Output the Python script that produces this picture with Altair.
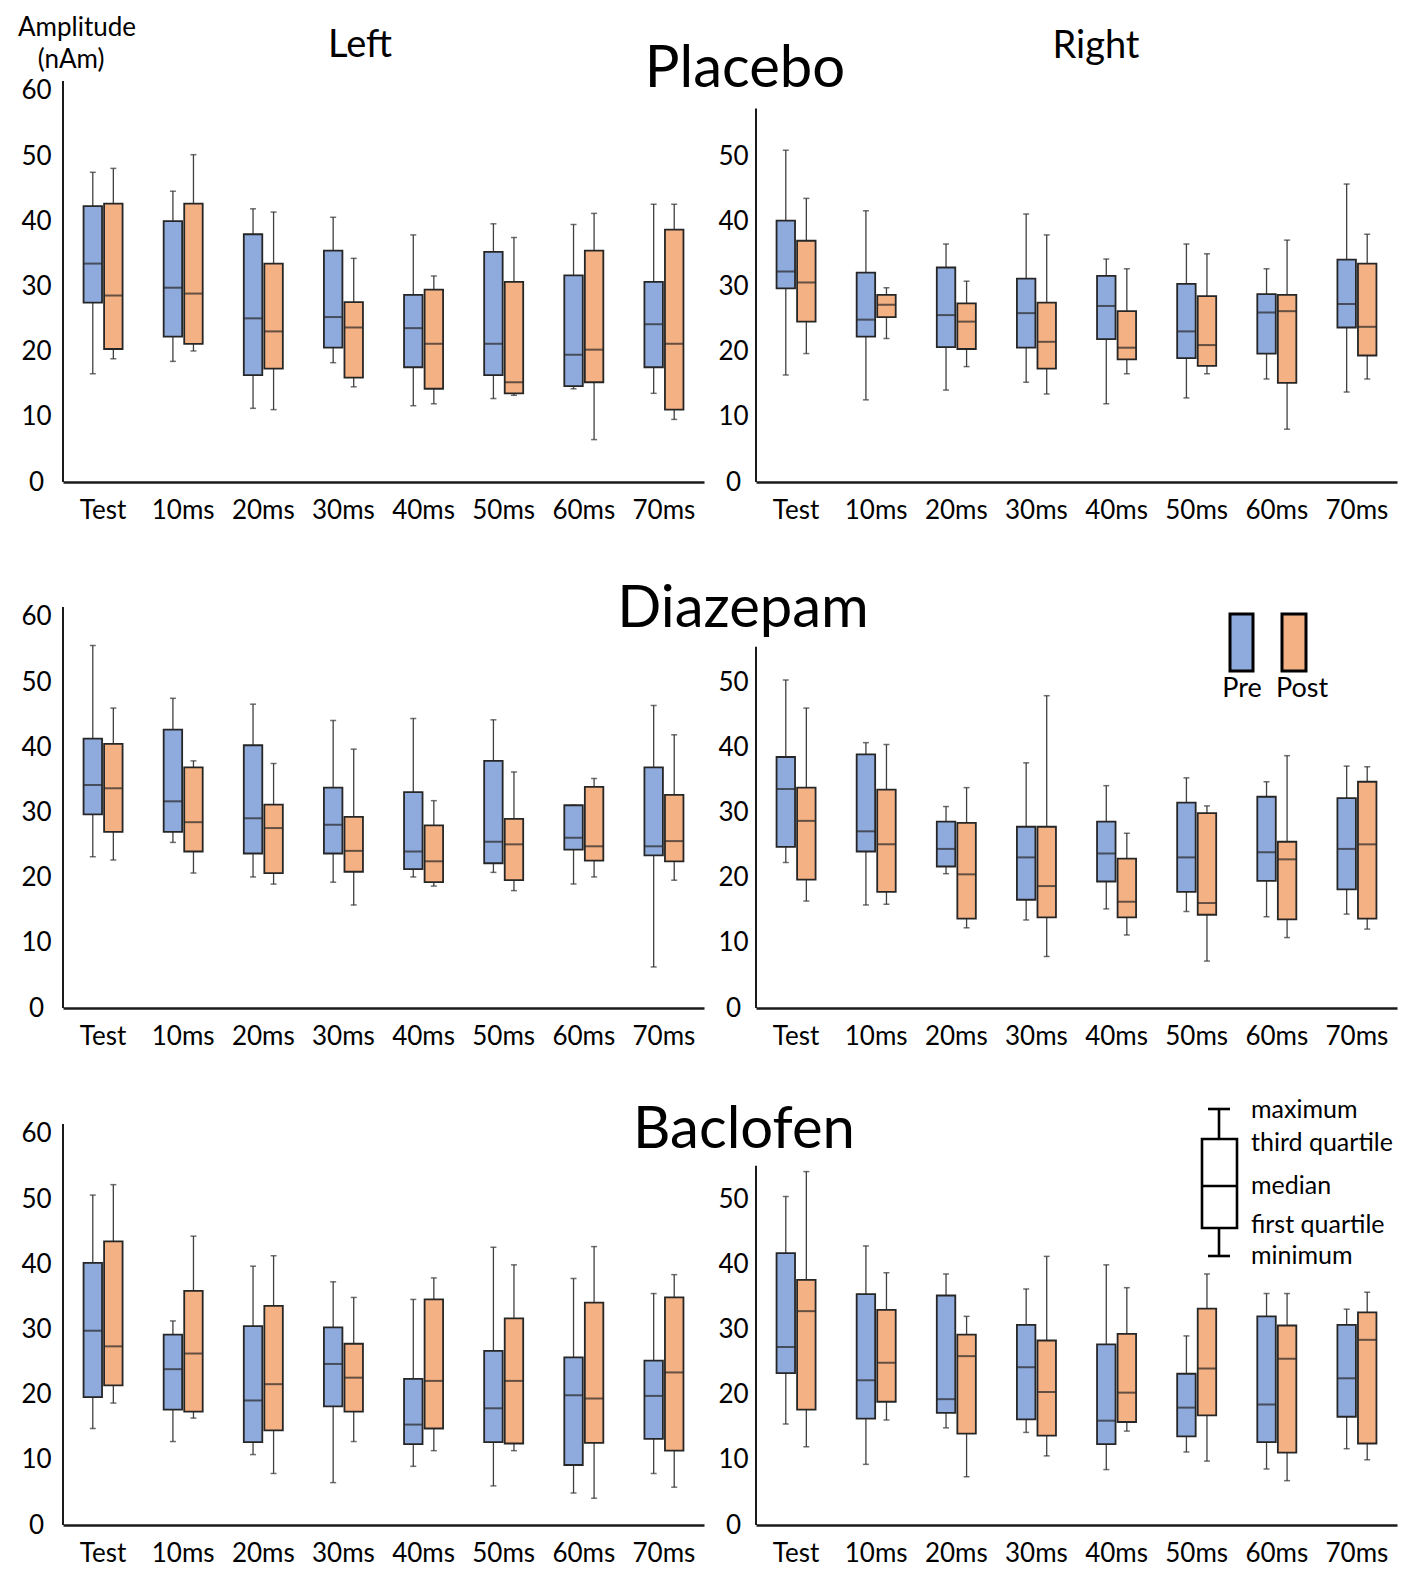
import altair as alt
import pandas as pd

CATS = ["Test", "10ms", "20ms", "30ms", "40ms", "50ms", "60ms", "70ms"]
GROUPS = ["Pre", "Post"]

# (minimum, first quartile, median, third quartile, maximum) per category
placebo_left_pre = [(16.6, 27.5, 33.5, 42.3, 47.5), (18.5, 22.3, 29.8, 40.0, 44.6), (11.3, 16.4, 25.1, 38.0, 41.9), (18.3, 20.6, 25.3, 35.5, 40.6),
                    (11.7, 17.6, 23.6, 28.7, 37.9), (12.8, 16.4, 21.2, 35.3, 39.6), (14.3, 14.7, 19.5, 31.7, 39.5), (13.6, 17.6, 24.2, 30.7, 42.6)]
placebo_left_post = [(18.9, 20.4, 28.6, 42.7, 48.1), (20.1, 21.2, 28.9, 42.7, 50.2), (11.1, 17.4, 23.1, 33.5, 41.4), (14.6, 16.0, 23.7, 27.6, 34.3),
                     (12.0, 14.3, 21.2, 29.5, 31.6), (13.3, 13.6, 15.3, 30.7, 37.5), (6.5, 15.3, 20.3, 35.5, 41.2), (9.6, 11.1, 21.2, 38.7, 42.6)]
placebo_right_pre = [(16.4, 29.7, 32.3, 40.1, 50.9), (12.6, 22.3, 24.9, 32.1, 41.6), (14.1, 20.7, 25.6, 32.9, 36.5), (15.3, 20.6, 25.9, 31.2, 41.1),
                     (12.0, 21.9, 27.0, 31.6, 34.2), (12.9, 19.0, 23.1, 30.4, 36.5), (15.8, 19.7, 26.0, 28.8, 32.7), (13.8, 23.7, 27.3, 34.1, 45.7)]
placebo_right_post = [(19.7, 24.6, 30.6, 37.0, 43.5), (22.0, 25.3, 27.2, 28.7, 29.8), (17.7, 20.4, 24.6, 27.4, 30.8), (13.5, 17.4, 21.5, 27.5, 37.9),
                      (16.6, 18.8, 20.6, 26.2, 32.7), (16.6, 17.8, 21.0, 28.5, 35.0), (8.1, 15.2, 26.2, 28.7, 37.1), (15.8, 19.4, 23.8, 33.5, 38.0)]
diazepam_left_pre = [(23.2, 29.7, 34.2, 41.3, 55.6), (25.4, 27.0, 31.7, 42.7, 47.5), (20.1, 23.7, 29.1, 40.3, 46.6), (19.3, 23.7, 28.1, 33.8, 44.1),
                     (20.1, 21.3, 24.0, 33.1, 44.4), (20.8, 22.2, 25.5, 37.9, 44.2), (19.0, 24.3, 26.1, 31.1, 31.1), (6.3, 23.4, 24.8, 36.9, 46.4)]
diazepam_left_post = [(22.7, 27.0, 33.7, 40.5, 46.0), (20.7, 24.0, 28.5, 36.9, 37.9), (19.0, 20.7, 27.6, 31.2, 37.5), (15.8, 20.9, 24.1, 29.3, 39.7),
                      (18.7, 19.3, 22.5, 28.0, 31.8), (18.0, 19.6, 25.1, 29.0, 36.2), (20.1, 22.6, 24.8, 33.9, 35.2), (19.6, 22.5, 25.6, 32.7, 41.9)]
diazepam_right_pre = [(22.3, 24.7, 33.6, 38.5, 50.3), (15.8, 24.0, 27.1, 38.9, 40.7), (20.6, 21.7, 24.4, 28.6, 30.9), (13.5, 16.6, 23.1, 27.8, 37.6),
                      (15.2, 19.4, 23.7, 28.6, 34.1), (14.8, 17.8, 23.1, 31.5, 35.3), (14.0, 19.5, 23.9, 32.4, 34.7), (14.4, 18.2, 24.4, 32.2, 37.1)]
diazepam_right_post = [(16.4, 19.7, 28.7, 33.8, 46.0), (15.9, 17.8, 25.1, 33.5, 40.4), (12.3, 13.7, 20.5, 28.4, 33.8), (7.9, 13.9, 18.7, 27.8, 47.9),
                       (11.2, 13.9, 16.3, 22.9, 26.8), (7.2, 14.3, 16.1, 29.9, 31.0), (10.8, 13.6, 22.8, 25.5, 38.7), (12.1, 13.7, 25.1, 34.7, 37.0)]
baclofen_left_pre = [(14.8, 19.6, 29.8, 40.2, 50.6), (12.8, 17.7, 23.9, 29.2, 31.3), (10.8, 12.7, 19.1, 30.5, 39.7), (6.5, 18.2, 24.7, 30.3, 37.3),
                     (9.0, 12.4, 15.4, 22.4, 34.6), (6.0, 12.7, 17.9, 26.7, 42.6), (4.9, 9.2, 19.9, 25.7, 37.8), (7.9, 13.2, 19.8, 25.2, 35.5)]
baclofen_left_post = [(18.7, 21.4, 27.4, 43.5, 52.2), (16.4, 17.4, 26.3, 35.9, 44.3), (7.9, 14.5, 21.6, 33.6, 41.3), (12.8, 17.4, 22.6, 27.8, 34.9),
                      (11.4, 14.8, 22.1, 34.6, 37.9), (11.4, 12.5, 22.1, 31.7, 39.9), (4.1, 12.6, 19.4, 34.1, 42.7), (5.8, 11.4, 23.4, 34.9, 38.4)]
baclofen_right_pre = [(15.5, 23.3, 27.3, 41.7, 50.4), (9.3, 16.3, 22.2, 35.4, 42.8), (14.9, 17.2, 19.3, 35.2, 38.5), (14.2, 16.2, 24.2, 30.7, 36.2),
                      (8.5, 12.4, 16.0, 27.7, 39.9), (11.2, 13.6, 18.0, 23.2, 29.0), (8.6, 12.7, 18.5, 32.0, 35.5), (11.7, 16.6, 22.5, 30.7, 33.1)]
baclofen_right_post = [(12.0, 17.7, 32.8, 37.6, 54.2), (16.1, 18.9, 24.9, 33.0, 38.7), (7.4, 14.0, 25.9, 29.2, 32.0), (10.6, 13.7, 20.4, 28.3, 41.2),
                       (14.4, 15.8, 20.3, 29.3, 36.4), (9.8, 16.8, 24.0, 33.2, 38.5), (6.8, 11.1, 25.5, 30.6, 35.5), (10.0, 12.5, 28.4, 32.6, 35.7)]

SERIES = [
    ("Placebo", "Left", "Pre", placebo_left_pre), ("Placebo", "Left", "Post", placebo_left_post),
    ("Placebo", "Right", "Pre", placebo_right_pre), ("Placebo", "Right", "Post", placebo_right_post),
    ("Diazepam", "Left", "Pre", diazepam_left_pre), ("Diazepam", "Left", "Post", diazepam_left_post),
    ("Diazepam", "Right", "Pre", diazepam_right_pre), ("Diazepam", "Right", "Post", diazepam_right_post),
    ("Baclofen", "Left", "Pre", baclofen_left_pre), ("Baclofen", "Left", "Post", baclofen_left_post),
    ("Baclofen", "Right", "Pre", baclofen_right_pre), ("Baclofen", "Right", "Post", baclofen_right_post),
]

rows = []
for drug, side, group, vals in SERIES:
    for cat, (mn, q1, md, q3, mx) in zip(CATS, vals):
        rows.append(dict(drug=drug, side=side, group=group, cat=cat, mn=mn, q1=q1, md=md, q3=q3, mx=mx))
df = pd.DataFrame(rows)
dummy = pd.DataFrame({"a": [0]})

FONT = "Lato"
BLUE = "#8FAADC"
ORANGE = "#F4B183"
INK = "#1a1a1a"
PX = 6.52          # pixels per nAm
W = 641
HEIGHTS = {"Placebo": 402, "Diazepam": 426, "Baclofen": 417}
AXIS_TOP = {("Placebo", "Left"): 61.5, ("Placebo", "Right"): 57.3,
            ("Diazepam", "Left"): 61.5, ("Diazepam", "Right"): 55.4,
            ("Baclofen", "Left"): 61.5, ("Baclofen", "Right"): 55.1}


def text(t, x, y, size, align="center", baseline="alphabetic"):
    return alt.Chart(dummy).mark_text(text=t, font=FONT, fontSize=size, align=align,
                                      baseline=baseline, color="black").encode(
        x=alt.value(x), y=alt.value(y))


def panel(drug, side, extras):
    H = HEIGHTS[drug]
    ymax = H / PX
    sub = df[(df.drug == drug) & (df.side == side)]
    base = alt.Chart(sub)
    x = alt.X("cat:N", sort=CATS,
              scale=alt.Scale(domain=CATS, paddingInner=0, paddingOuter=0),
              axis=alt.Axis(title=None, labelAngle=0, labelFontSize=26, labelFont=FONT,
                            labelColor="black", domainColor=INK, domainWidth=2.5,
                            ticks=False, tickSize=0, labelPadding=15, grid=False))
    xo = alt.XOffset("group:N", sort=GROUPS,
                     scale=alt.Scale(domain=GROUPS, paddingInner=0.1, paddingOuter=1))
    yticks = [0, 10, 20, 30, 40, 50, 60] if side == "Left" else [0, 10, 20, 30, 40, 50]
    yscale = alt.Scale(domain=[0, ymax], nice=False, zero=True)
    yaxis = alt.Axis(title=None, values=yticks, domain=False, ticks=False, tickSize=0,
                     grid=False, labelAlign="center", labelBaseline="middle",
                     labelPadding=27 if side == "Left" else 23, labelFontSize=26,
                     labelFont=FONT, labelColor="black")

    def Y(field):
        return alt.Y(field, scale=yscale, axis=yaxis)

    whisk = base.mark_rule(color="#404040", strokeWidth=1.3).encode(
        x=x, xOffset=xo, y=Y("mn:Q"), y2="mx:Q")
    cap_lo = base.mark_tick(color="#333333", thickness=1.5, size=6).encode(
        x=x, xOffset=xo, y=Y("mn:Q"))
    cap_hi = base.mark_tick(color="#333333", thickness=1.5, size=6).encode(
        x=x, xOffset=xo, y=Y("mx:Q"))
    box = base.mark_bar(stroke="#262626", strokeWidth=1.8).encode(
        x=x, xOffset=xo, y=Y("q1:Q"), y2="q3:Q",
        color=alt.Color("group:N", scale=alt.Scale(domain=GROUPS, range=[BLUE, ORANGE]),
                        legend=None))
    med = base.mark_tick(color="#262626", thickness=2, size=18.5).encode(
        x=x, xOffset=xo, y=Y("md:Q"))
    top_px = H - AXIS_TOP[(drug, side)] * PX
    yline = alt.Chart(dummy).mark_rule(color=INK, strokeWidth=2).encode(
        x=alt.value(0), y=alt.value(top_px), y2=alt.value(H))
    return alt.layer(whisk, cap_lo, cap_hi, box, med, yline, *extras).properties(
        width=W, height=H)


p11 = panel("Placebo", "Left", [
    text("Amplitude", 14, -44, 26),
    text("(nAm)", 8, -12, 26),
    text("Left", 297, -23, 38),
    text("Placebo", 682, 7, 58),
])
p12 = panel("Placebo", "Right", [
    text("Right", 340, -22, 38),
])
p21 = panel("Diazepam", "Left", [
    text("Diazepam", 680, 45, 58),
])
legend_pp = [
    alt.Chart(dummy).mark_rect(fill=BLUE, stroke="black", strokeWidth=3).encode(
        x=alt.value(474), x2=alt.value(497), y=alt.value(32), y2=alt.value(89)),
    alt.Chart(dummy).mark_rect(fill=ORANGE, stroke="black", strokeWidth=3).encode(
        x=alt.value(526), x2=alt.value(550), y=alt.value(32), y2=alt.value(89)),
    text("Pre", 486, 115, 27),
    text("Post", 546, 115, 27),
]
p22 = panel("Diazepam", "Right", legend_pp)
p31 = panel("Baclofen", "Left", [
    text("Baclofen", 681, 40, 58),
])
lw = 2.6
legend_box = [
    alt.Chart(dummy).mark_rule(color="black", strokeWidth=lw).encode(
        x=alt.value(463), y=alt.value(1), y2=alt.value(148)),
    alt.Chart(dummy).mark_rule(color="black", strokeWidth=lw).encode(
        x=alt.value(452), x2=alt.value(474), y=alt.value(1)),
    alt.Chart(dummy).mark_rule(color="black", strokeWidth=lw).encode(
        x=alt.value(452), x2=alt.value(474), y=alt.value(148)),
    alt.Chart(dummy).mark_rect(fill="white", stroke="black", strokeWidth=lw).encode(
        x=alt.value(446), x2=alt.value(481), y=alt.value(31), y2=alt.value(120)),
    alt.Chart(dummy).mark_rule(color="black", strokeWidth=lw).encode(
        x=alt.value(446), x2=alt.value(481), y=alt.value(78)),
    text("maximum", 495, 10, 25, align="left"),
    text("third quartile", 495, 43, 25, align="left"),
    text("median", 495, 86, 25, align="left"),
    text("first quartile", 495, 125, 25, align="left"),
    text("minimum", 495, 156, 25, align="left"),
]
p32 = panel("Baclofen", "Right", legend_box)

chart = alt.concat(p11, p12, p21, p22, p31, p32, columns=2,
                   spacing={"row": 100, "column": 52}, bounds="flush").properties(
    padding={"left": 10, "top": 7, "right": 5, "bottom": 2},
    background="white",
).configure_view(stroke=None)

chart.save("out.html", embed_options={"renderer": "svg", "actions": False})
